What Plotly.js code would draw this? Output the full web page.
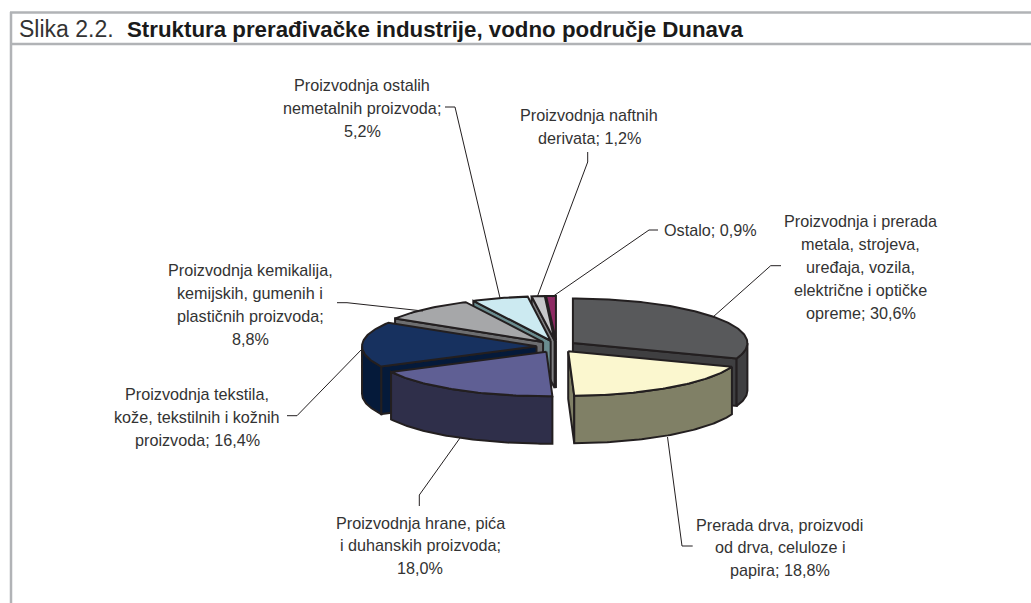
<!DOCTYPE html>
<html>
<head>
<meta charset="utf-8">
<script src="https://cdn.plot.ly/plotly-3.0.1.min.js"></script>
<style>html,body{margin:0;padding:0;background:#fff}#chart{width:1031px;height:603px}</style>
</head>
<body>
<div id="chart"></div>
<script>
// ---------- data, clockwise from 12 o'clock ----------
const values = [30.6, 18.8, 18.0, 16.4, 8.8, 5.2, 1.2, 0.9];
const categoryLines = [
  ['Proizvodnja i prerada', 'metala, strojeva,', 'uređaja, vozila,', 'električne i optičke', 'opreme; {v}%'],
  ['Prerada drva, proizvodi', 'od drva, celuloze i', 'papira; {v}%'],
  ['Proizvodnja hrane, pića', 'i duhanskih proizvoda;', '{v}%'],
  ['Proizvodnja tekstila,', 'kože, tekstilnih i kožnih', 'proizvoda; {v}%'],
  ['Proizvodnja kemikalija,', 'kemijskih, gumenih i', 'plastičnih proizvoda;', '{v}%'],
  ['Proizvodnja ostalih', 'nemetalnih proizvoda;', '{v}%'],
  ['Proizvodnja naftnih', 'derivata; {v}%'],
  ['Ostalo; {v}%']
];
const topColors  = ['#58595b', '#fbf7cf', '#5f5f94', '#17315f', '#a6a7a9', '#cceaf1', '#c7c8ca', '#8e2a63'];
const wallColors = ['#3f3f41', '#808066', '#2f2f4a', '#051a3a', '#6d6e70', '#6a8c8f', '#808082', '#4a1534'];

// ---------- layout geometry ----------
const W = 1031, H = 603;
const cx = 556.5, cy = 346.5, rx = 174.5, ry = 44.5, depth = 47.5;
const explodeX = 20, explodeY = 6;
const outline = {color: '#231f20', width: 2};
const drawOrder = [0, 7, 6, 5, 4, 3, 2, 1];
const labelCenters = [860.5, 779.5, 420, 197, 250, 362, 589, 710];
const labelTops = [221, 524.5, 522.5, 393.5, 270, 85, 115, 230];
const lineStep = [23, 22.5, 22.7, 23, 23, 23, 23, 0];
const leaders = [
  [[781, 770.7, 713], [265.7, 265.7, 317]],
  [[692.7, 682, 667.5], [546, 546, 437]],
  [[419.3, 419.3, 460], [506, 495, 438]],
  [[287, 297, 363], [415.7, 415.7, 348]],
  [[337, 347, 423], [302.7, 302.7, 311]],
  [[445, 455, 500], [107, 107, 298]],
  [[587.7, 587.7, 537.3], [152, 162, 296.7]],
  [[658, 649, 552], [230, 230, 297]]
];

// ---------- build slices from the values ----------
const total = values.reduce((a, b) => a + b, 0);
const rad = d => d * Math.PI / 180;
let acc = 0;
const slices = values.map((v, i) => {
  const a0 = acc / total * 360; acc += v; const a1 = acc / total * 360;
  const mid = rad((a0 + a1) / 2);
  return {i, a0, a1, ax: cx + explodeX * Math.sin(mid), ay: cy - explodeY * Math.cos(mid)};
});
function rim(s, a, dy) {
  return [s.ax + rx * Math.sin(rad(a)), s.ay - ry * Math.cos(rad(a)) + (dy || 0)];
}
function arc(s, from, to, dy) {
  const pts = [], n = Math.max(2, Math.ceil(Math.abs(to - from)));
  for (let k = 0; k <= n; k++) pts.push(rim(s, from + (to - from) * k / n, dy));
  return pts;
}
function poly(pts, fill) {
  const c = pts.concat([pts[0]]);
  return {type: 'scatter', mode: 'lines', x: c.map(p => p[0]), y: c.map(p => p[1]),
    fill: 'toself', fillcolor: fill, line: {color: outline.color, width: outline.width, shape: 'linear'},
    hoverinfo: 'skip', showlegend: false};
}
function radial(s, a, color) {
  const e = rim(s, a);
  return poly([[s.ax, s.ay], e, [e[0], e[1] + depth], [s.ax, s.ay + depth]], color);
}
const traces = [];
drawOrder.forEach(idx => {
  const s = slices[idx];
  const wall = wallColors[idx];
  if (s.a1 < 180) traces.push(radial(s, s.a1, wall));
  if (s.a0 > 180) traces.push(radial(s, s.a0, wall));
  const w0 = Math.max(s.a0, 90), w1 = Math.min(s.a1, 270);
  if (w1 > w0) traces.push(poly(arc(s, w0, w1).concat(arc(s, w1, w0, depth)), wall));
  traces.push(poly([[s.ax, s.ay]].concat(arc(s, s.a0, s.a1)), topColors[idx]));
});
leaders.forEach(l => traces.push({type: 'scatter', mode: 'lines', x: l[0], y: l[1],
  line: {color: '#231f20', width: 1}, hoverinfo: 'skip', showlegend: false}));

// ---------- text ----------
const labelFont = {family: 'Liberation Sans, Arial, sans-serif', size: 16.2, color: '#333333'};
const annotations = [];
categoryLines.forEach((lines, i) => {
  const txt = values[i].toFixed(1).replace('.', ',');
  lines.forEach((t, k) => annotations.push({
    xref: 'x', yref: 'y', x: labelCenters[i], y: labelTops[i] + k * lineStep[i],
    text: t.replace('{v}', txt), showarrow: false, xanchor: 'center', yanchor: 'middle',
    font: labelFont
  }));
});
annotations.push({xref: 'x', yref: 'y', x: 16.5, y: 29, xanchor: 'left', yanchor: 'middle', showarrow: false,
  text: 'Slika 2.2.', font: {family: 'Liberation Sans, Arial, sans-serif', size: 23, color: '#333333'}});
annotations.push({xref: 'x', yref: 'y', x: 124.5, y: 29, xanchor: 'left', yanchor: 'middle', showarrow: false,
  text: '<b>Struktura prerađivačke industrije, vodno područje Dunava</b>',
  font: {family: 'Liberation Sans, Arial, sans-serif', size: 22.3, color: '#1a1a1a'}});

const frame = {color: '#b1b3b6', width: 2.5};
const shapes = [
  {type: 'line', xref: 'x', yref: 'y', x0: 10, x1: W, y0: 12.5, y1: 12.5, line: frame},
  {type: 'line', xref: 'x', yref: 'y', x0: 10, x1: W, y0: 44, y1: 44, line: frame},
  {type: 'line', xref: 'x', yref: 'y', x0: 11, x1: 11, y0: 12, y1: H, line: frame}
];

Plotly.newPlot('chart', traces, {
  width: W, height: H, margin: {l: 0, r: 0, t: 0, b: 0}, paper_bgcolor: '#fff', plot_bgcolor: '#fff',
  xaxis: {range: [0, W], visible: false, fixedrange: true},
  yaxis: {range: [H, 0], visible: false, fixedrange: true},
  showlegend: false, annotations, shapes
}, {displayModeBar: false, staticPlot: true});
</script>
</body>
</html>
